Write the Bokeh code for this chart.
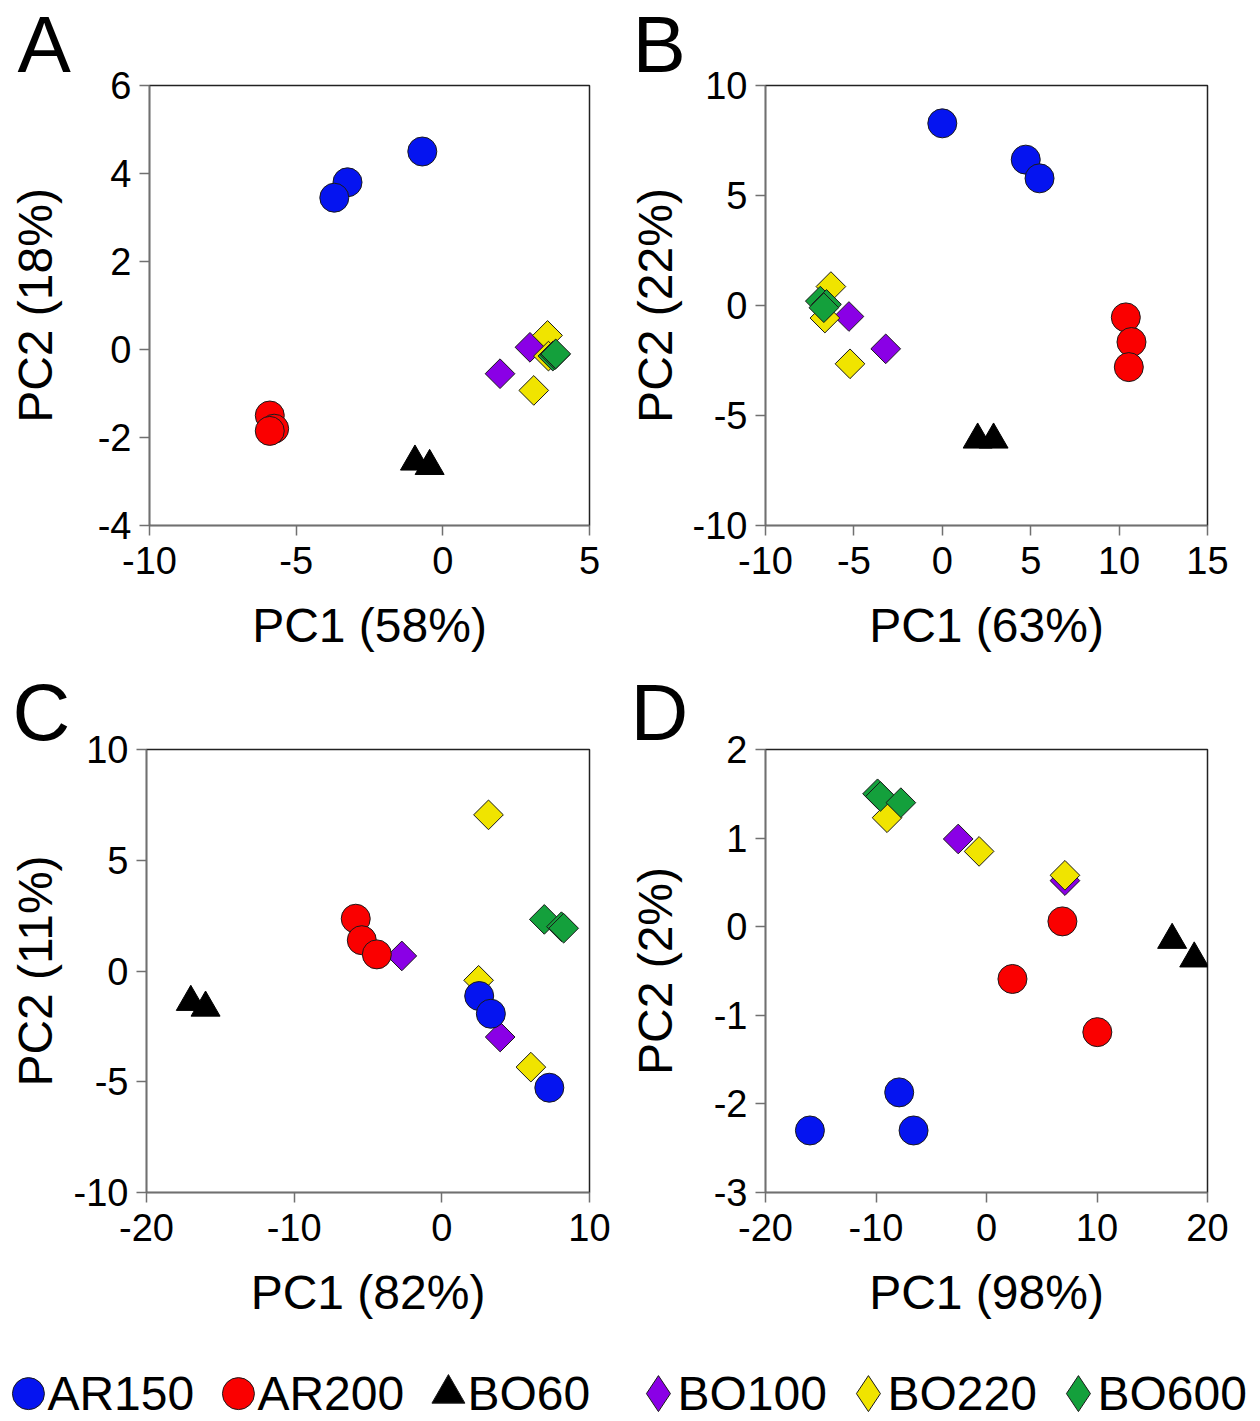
import math
from bokeh.plotting import figure
from bokeh.layouts import column, row
from bokeh.models import (Range1d, FactorRange, FixedTicker, ColumnDataSource,
                          CustomJSTickFormatter)
from bokeh.transform import dodge
from bokeh.embed import file_html
from bokeh.resources import INLINE

# ---------------- data ----------------
GROUPS = ["AR150", "AR200", "BO60", "BO100", "BO220", "BO600"]

A_PC1 = {"AR150": [-0.7, -3.25, -3.7], "AR200": [-5.9, -5.75, -5.9],
         "BO60": [-0.95, -0.45], "BO100": [1.95, 2.97],
         "BO220": [3.57, 3.1, 3.6], "BO600": [3.75, 3.82, 3.85]}
A_PC2 = {"AR150": [4.5, 3.8, 3.45], "AR200": [-1.5, -1.8, -1.85],
         "BO60": [-2.55, -2.65], "BO100": [-0.55, 0.05],
         "BO220": [0.32, -0.93, -0.15], "BO600": [-0.15, -0.12, -0.1]}

B_PC1 = {"AR150": [0.0, 4.72, 5.5], "AR200": [10.38, 10.7, 10.55],
         "BO60": [2.0, 2.9], "BO100": [-5.28, -3.2],
         "BO220": [-6.3, -6.64, -5.22], "BO600": [-6.9, -6.55, -6.7]}
B_PC2 = {"AR150": [8.28, 6.63, 5.78], "AR200": [-0.54, -1.66, -2.8],
         "BO60": [-6.1, -6.1], "BO100": [-0.5, -1.97],
         "BO220": [0.86, -0.57, -2.65], "BO600": [0.2, 0.05, -0.1]}

C_PC1 = {"AR150": [2.53, 3.32, 7.28], "AR200": [-5.83, -5.42, -4.4],
         "BO60": [-17.0, -16.0], "BO100": [-2.71, 3.95],
         "BO220": [3.16, 2.49, 6.03], "BO600": [6.94, 8.1, 8.25]}
C_PC2 = {"AR150": [-1.13, -1.93, -5.27], "AR200": [2.36, 1.39, 0.75],
         "BO60": [-1.4, -1.66], "BO100": [0.68, -2.98],
         "BO220": [7.05, -0.42, -4.34], "BO600": [2.33, 2.0, 1.93]}

D_PC1 = {"AR150": [-15.98, -7.9, -6.6], "AR200": [6.87, 2.35, 10.03],
         "BO60": [16.8, 18.8], "BO100": [-2.56, 7.1],
         "BO220": [-9.0, -0.67, 7.1], "BO600": [-9.86, -9.6, -7.75]}
D_PC2 = {"AR150": [-2.30, -1.87, -2.3], "AR200": [0.06, -0.59, -1.19],
         "BO60": [-0.15, -0.36], "BO100": [0.99, 0.52],
         "BO220": [1.23, 0.85, 0.58], "BO600": [1.5, 1.47, 1.40]}

X_LABELS = ["PC1 (58%)", "PC1 (63%)", "PC1 (82%)", "PC1 (98%)"]
Y_LABELS = ["PC2 (18%)", "PC2 (22%)", "PC2 (11%)", "PC2 (2%)"]
PANEL_LETTERS = ["A", "B", "C", "D"]

A_XTICKS = [-10, -5, 0, 5];         A_YTICKS = [-4, -2, 0, 2, 4, 6]
B_XTICKS = [-10, -5, 0, 5, 10, 15]; B_YTICKS = [-10, -5, 0, 5, 10]
C_XTICKS = [-20, -10, 0, 10];       C_YTICKS = [-10, -5, 0, 5, 10]
D_XTICKS = [-20, -10, 0, 10, 20];   D_YTICKS = [-3, -2, -1, 0, 1, 2]

# ---------------- styles ----------------
FONT = "Liberation Sans"
COLORS = {"AR150": "#0514F0", "AR200": "#FA0000", "BO60": "#000000",
          "BO100": "#8A00E6", "BO220": "#F0E400", "BO600": "#14A03C"}
MARKERS = {"AR150": "circle", "AR200": "circle", "BO60": "triangle",
           "BO100": "square", "BO220": "square", "BO600": "square"}
LEGEND_MARKERS = {"AR150": "circle", "AR200": "circle", "BO60": "triangle",
                  "BO100": "diamond", "BO220": "diamond", "BO600": "diamond"}
LEGEND_SIZES = {"circle": 32, "triangle": 33, "diamond": 36}
DRAW_ORDER = ["BO100", "BO220", "BO600", "AR150", "AR200", "BO60"]

TICK_FMT = "return tick.toString();"


def make_panel(pc1, pc2, xticks, yticks, xlabel, ylabel, letter,
               width, height, borders, ylab_standoff, letter_offset,
               letter_standoff):
    left, right, top, bottom = borders
    p = figure(width=width, height=height, output_backend="svg",
               toolbar_location=None,
               x_range=Range1d(xticks[0], xticks[-1]),
               y_range=Range1d(yticks[0], yticks[-1]),
               min_border_left=left, min_border_right=right,
               min_border_top=top, min_border_bottom=bottom)
    p.xgrid.visible = False
    p.ygrid.visible = False
    p.outline_line_color = "#222222"
    p.outline_line_width = 1.5
    p.background_fill_color = "white"
    p.border_fill_color = "white"

    p.xaxis.ticker = FixedTicker(ticks=xticks)
    p.yaxis.ticker = FixedTicker(ticks=yticks)
    for ax in (p.xaxis[0], p.yaxis[0]):
        ax.formatter = CustomJSTickFormatter(code=TICK_FMT)
        ax.axis_line_color = "#707070"
        ax.axis_line_width = 1.5
        ax.major_tick_line_color = "#707070"
        ax.major_tick_line_width = 1.5
        ax.major_tick_out = 10
        ax.major_tick_in = 0
        ax.minor_tick_line_color = None
        ax.major_label_text_font = FONT
        ax.major_label_text_font_size = "38px"
        ax.major_label_text_color = "black"
        ax.axis_label_text_font = FONT
        ax.axis_label_text_font_size = "48px"
        ax.axis_label_text_font_style = "normal"
        ax.axis_label_text_color = "black"
    p.xaxis.axis_label = xlabel
    p.yaxis.axis_label = ylabel
    p.xaxis.major_label_standoff = 11
    p.yaxis.major_label_standoff = 8
    p.xaxis.axis_label_standoff = 22
    p.yaxis.axis_label_standoff = ylab_standoff

    p.title.text = letter
    p.title.align = "left"
    p.title.offset = letter_offset
    p.title.standoff = letter_standoff
    p.title.text_font = FONT
    p.title.text_font_size = "80px"
    p.title.text_font_style = "normal"
    p.title.text_color = "black"

    for g in DRAW_ORDER:
        src = ColumnDataSource(dict(x=pc1[g], y=pc2[g]))
        m = MARKERS[g]
        if m == "square":
            p.scatter("x", "y", source=src, marker="square", size=21,
                      angle=math.pi / 4, fill_color=COLORS[g],
                      line_color="#1a1a1a", line_width=1)
        elif m == "triangle":
            p.scatter("x", "y", source=src, marker="triangle", size=29,
                      fill_color=COLORS[g], line_color="#000000", line_width=1)
        else:
            p.scatter("x", "y", source=src, marker="circle", size=29,
                      fill_color=COLORS[g], line_color="#1a1a1a", line_width=1)
    return p


# geometry: (left, right, top, bottom) borders
pA = make_panel(A_PC1, A_PC2, A_XTICKS, A_YTICKS, X_LABELS[0], Y_LABELS[0],
                PANEL_LETTERS[0], 620, 668, (149, 31, 84, 143), 33, -132, -6)
pB = make_panel(B_PC1, B_PC2, B_XTICKS, B_YTICKS, X_LABELS[1], Y_LABELS[1],
                PANEL_LETTERS[1], 640, 668, (145, 53, 84, 142), 8, -133, -6)
pC = make_panel(C_PC1, C_PC2, C_XTICKS, C_YTICKS, X_LABELS[2], Y_LABELS[2],
                PANEL_LETTERS[2], 620, 668, (146, 31, 81, 144), 9, -134, -15)
pD = make_panel(D_PC1, D_PC2, D_XTICKS, D_YTICKS, X_LABELS[3], Y_LABELS[3],
                PANEL_LETTERS[3], 640, 668, (145, 53, 81, 144), 29, -135, -15)

# ---------------- legend strip (one slot per group) ----------------
pL = figure(width=1260, height=84, output_backend="svg", toolbar_location=None,
            x_range=FactorRange(*GROUPS), y_range=Range1d(-0.32, 0.68),
            x_axis_location=None, y_axis_location=None,
            min_border_left=0, min_border_right=0,
            min_border_top=0, min_border_bottom=0)
pL.xgrid.visible = False
pL.ygrid.visible = False
pL.outline_line_color = None
pL.background_fill_color = "white"
pL.border_fill_color = "white"

leg_src = ColumnDataSource(dict(
    label=GROUPS,
    y=[0] * len(GROUPS),
    marker=[LEGEND_MARKERS[g] for g in GROUPS],
    size=[LEGEND_SIZES[LEGEND_MARKERS[g]] for g in GROUPS],
    fill=[COLORS[g] for g in GROUPS],
))
pL.scatter(x=dodge("label", -0.367, range=pL.x_range), y="y", source=leg_src,
           marker="marker", size="size", fill_color="fill",
           line_color="#1a1a1a", line_width=1)
pL.text(x=dodge("label", -0.367, range=pL.x_range), y="y", text="label",
        source=leg_src, x_offset=19, text_align="left",
        text_baseline="middle", text_font_size="48px",
        text_font={"value": FONT}, text_color="black")

layout = column(row(pA, pB, spacing=0), row(pC, pD, spacing=0), pL, spacing=0)

with open("out.html", "w") as f:
    f.write(file_html(layout, INLINE))
